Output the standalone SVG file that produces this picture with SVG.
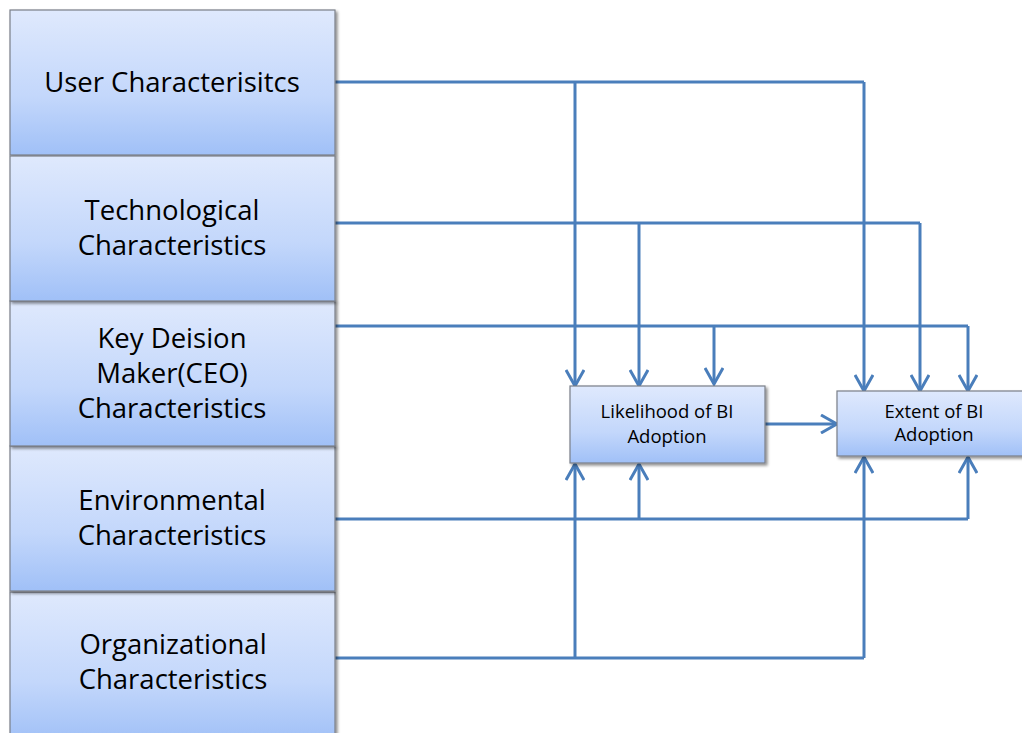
<svg xmlns="http://www.w3.org/2000/svg" width="1022" height="733" viewBox="0 0 1022 733">
  <defs>
    <linearGradient id="boxFill" x1="0" y1="0" x2="0" y2="1">
      <stop offset="0" stop-color="#dfe9fd"/>
      <stop offset="0.6" stop-color="#c3d7fb"/>
      <stop offset="1" stop-color="#a0c0f7"/>
    </linearGradient>
    <filter id="shadow" x="-10%" y="-10%" width="120%" height="130%">
      <feGaussianBlur in="SourceAlpha" stdDeviation="1.5"/>
      <feOffset dx="2" dy="2"/>
      <feComponentTransfer><feFuncA type="linear" slope="0.45"/></feComponentTransfer>
      <feMerge><feMergeNode/><feMergeNode in="SourceGraphic"/></feMerge>
    </filter>
    <marker id="arrow" viewBox="0 0 20 20" refX="18" refY="10" markerWidth="20" markerHeight="20" markerUnits="userSpaceOnUse" orient="auto">
      <path d="M2,1 L18,10 L2,19" fill="none" stroke="#4a7ebb" stroke-width="3"/>
    </marker>
  </defs>
  <style>
    .box { fill: url(#boxFill); stroke: #7a7f88; stroke-width: 1.2; filter: url(#shadow); }
    .big { font-family: "Open Sans", "Liberation Sans", sans-serif; font-size: 27.5px; fill: #000; text-anchor: middle; }
    .small { font-family: "Open Sans", "Liberation Sans", sans-serif; font-size: 18.5px; fill: #000; text-anchor: middle; }
    .line { fill: none; stroke: #4a7ebb; stroke-width: 3; }
    .arr { fill: none; stroke: #4a7ebb; stroke-width: 3; marker-end: url(#arrow); }
  </style>

  <g id="connectors">
    <!-- User characteristics -->
    <path class="line" d="M335,82 H864"/>
    <path class="arr" d="M575,82 V386"/>
    <path class="arr" d="M864,82 V391"/>
    <!-- Technological characteristics -->
    <path class="line" d="M335,223 H920"/>
    <path class="arr" d="M639,223 V386"/>
    <path class="arr" d="M920,223 V391"/>
    <!-- Key decision maker characteristics -->
    <path class="line" d="M335,326 H968"/>
    <path class="arr" d="M714,326 V384"/>
    <path class="arr" d="M968,326 V391"/>
    <!-- Environmental characteristics -->
    <path class="line" d="M335,519 H968"/>
    <path class="arr" d="M639,519 V464"/>
    <path class="arr" d="M968,519 V457"/>
    <!-- Organizational characteristics -->
    <path class="line" d="M335,658 H864"/>
    <path class="arr" d="M575,658 V464"/>
    <path class="arr" d="M864,658 V457"/>
    <!-- Likelihood to extent -->
    <path class="arr" d="M765,424 H837"/>
  </g>

  <g id="user">
    <rect class="box" x="10" y="10" width="325" height="145"/>
    <text class="big" x="172" y="92">User Characterisitcs</text>
  </g>
  <g id="organizational">
    <rect class="box" x="10" y="592" width="325" height="150"/>
    <text class="big" x="173" y="654">Organizational</text>
    <text class="big" x="173" y="689">Characteristics</text>
  </g>
  <g id="environmental">
    <rect class="box" x="10" y="446" width="325" height="145"/>
    <text class="big" x="172" y="510">Environmental</text>
    <text class="big" x="172" y="545">Characteristics</text>
  </g>
  <g id="decision-maker">
    <rect class="box" x="10" y="301" width="325" height="145"/>
    <text class="big" x="172" y="348">Key Deision</text>
    <text class="big" x="172" y="383">Maker(CEO)</text>
    <text class="big" x="172" y="418">Characteristics</text>
  </g>
  <g id="technological">
    <rect class="box" x="10" y="156" width="325" height="145"/>
    <text class="big" x="172" y="220">Technological</text>
    <text class="big" x="172" y="255">Characteristics</text>
  </g>

  <g id="likelihood">
    <rect class="box" x="570" y="386" width="195" height="77"/>
    <text class="small" x="667" y="418">Likelihood of BI</text>
    <text class="small" x="667" y="443">Adoption</text>
  </g>
  <g id="extent">
    <rect class="box" x="837" y="391" width="190" height="65"/>
    <text class="small" x="934" y="418">Extent of BI</text>
    <text class="small" x="934" y="441">Adoption</text>
  </g>
</svg>
